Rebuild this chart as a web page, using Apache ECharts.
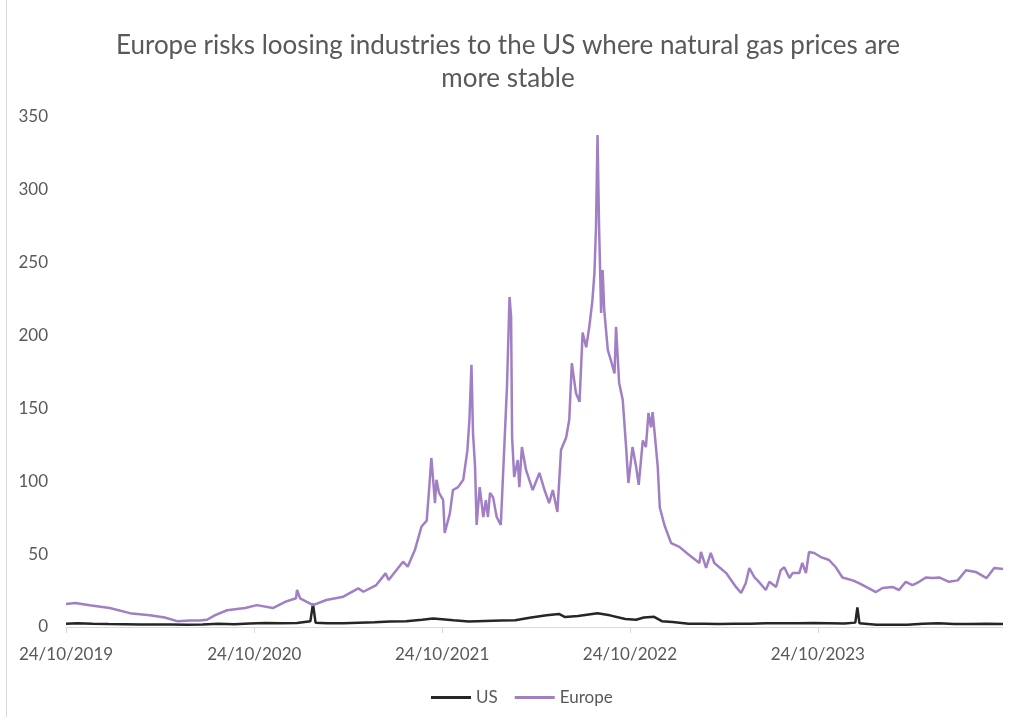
<!DOCTYPE html>
<html>
<head>
<meta charset="utf-8">
<title>Europe vs US gas prices</title>
<script src="https://cdn.jsdelivr.net/npm/echarts@6.0.0/dist/echarts.min.js"></script>
<style>
  html, body { margin: 0; padding: 0; background: #fff; }
  #main { width: 1016px; height: 717px; }
</style>
</head>
<body>
<div id="main"></div>
<script>
  // tick labels on the date axis
  var tickDates = ['2019-10-24', '2020-10-24', '2021-10-24', '2022-10-24', '2023-10-24'];

  // US natural gas price
  var usDates = [
    '2019-10-24', '2019-11-15', '2019-12-15', '2020-01-15', '2020-02-15', '2020-03-15', '2020-04-15',
    '2020-05-15', '2020-06-15', '2020-07-15', '2020-08-15', '2020-09-15', '2020-10-15', '2020-11-15',
    '2020-12-15', '2021-01-15', '2021-02-10', '2021-02-15', '2021-02-20', '2021-03-15', '2021-04-15',
    '2021-05-15', '2021-06-15', '2021-07-15', '2021-08-15', '2021-09-15', '2021-10-06', '2021-10-24',
    '2021-11-15', '2021-12-15', '2022-01-15', '2022-02-15', '2022-03-15', '2022-04-15', '2022-05-15',
    '2022-06-08', '2022-06-20', '2022-07-15', '2022-08-22', '2022-09-15', '2022-10-15', '2022-11-05',
    '2022-11-20', '2022-12-10', '2022-12-25', '2023-01-15', '2023-02-15', '2023-03-15', '2023-04-15',
    '2023-05-15', '2023-06-15', '2023-07-15', '2023-08-15', '2023-09-15', '2023-10-15', '2023-11-15',
    '2023-12-15', '2024-01-05', '2024-01-09', '2024-01-13', '2024-02-15', '2024-03-15', '2024-04-15',
    '2024-05-15', '2024-06-15', '2024-07-15', '2024-08-15', '2024-09-15', '2024-10-18'
  ];
  var usValues = [
    2.3, 2.6, 2.2, 2.0, 1.9, 1.7, 1.7,
    1.7, 1.6, 1.7, 2.2, 1.9, 2.4, 2.8,
    2.6, 2.7, 4.0, 16.0, 3.0, 2.5, 2.6,
    2.9, 3.2, 3.8, 4.0, 5.0, 5.8, 5.3,
    4.6, 3.8, 4.2, 4.5, 4.7, 6.5, 8.0,
    9.0, 6.8, 7.5, 9.5, 8.0, 5.5, 5.0,
    6.5, 7.0, 4.0, 3.4, 2.3, 2.2, 2.1,
    2.2, 2.3, 2.5, 2.6, 2.5, 2.8, 2.6,
    2.4, 3.0, 13.5, 2.6, 1.6, 1.5, 1.6,
    2.2, 2.5, 2.0, 2.0, 2.2, 2.0
  ];

  // European (TTF) natural gas price
  var euDates = [
    '2019-10-24', '2019-11-11', '2019-12-09', '2020-01-17', '2020-02-25', '2020-04-04', '2020-05-03',
    '2020-05-27', '2020-06-21', '2020-07-10', '2020-07-24', '2020-08-08', '2020-09-01', '2020-10-06',
    '2020-10-29', '2020-11-29', '2020-12-24', '2021-01-13', '2021-01-15', '2021-01-21', '2021-02-15',
    '2021-03-13', '2021-04-15', '2021-05-14', '2021-05-24', '2021-06-18', '2021-07-06', '2021-07-12',
    '2021-08-09', '2021-08-18', '2021-09-01', '2021-09-14', '2021-09-24', '2021-09-29', '2021-10-03',
    '2021-10-07', '2021-10-10', '2021-10-13', '2021-10-18', '2021-10-26', '2021-10-29', '2021-11-08',
    '2021-11-14', '2021-11-24', '2021-12-04', '2021-12-12', '2021-12-16', '2021-12-20', '2021-12-23',
    '2021-12-27', '2021-12-30', '2022-01-05', '2022-01-12', '2022-01-17', '2022-01-21', '2022-01-25',
    '2022-01-31', '2022-02-07', '2022-02-15', '2022-02-23', '2022-02-27', '2022-03-04', '2022-03-07',
    '2022-03-09', '2022-03-13', '2022-03-20', '2022-03-23', '2022-03-28', '2022-04-05', '2022-04-18',
    '2022-05-01', '2022-05-11', '2022-05-20', '2022-05-27', '2022-06-05', '2022-06-12', '2022-06-22',
    '2022-06-28', '2022-07-03', '2022-07-11', '2022-07-18', '2022-07-24', '2022-07-31', '2022-08-06',
    '2022-08-12', '2022-08-16', '2022-08-19', '2022-08-22', '2022-08-25', '2022-08-29', '2022-09-01',
    '2022-09-04', '2022-09-11', '2022-09-17', '2022-09-24', '2022-09-27', '2022-10-03', '2022-10-10',
    '2022-10-16', '2022-10-21', '2022-10-29', '2022-11-05', '2022-11-10', '2022-11-18', '2022-11-24',
    '2022-11-29', '2022-12-04', '2022-12-07', '2022-12-11', '2022-12-17', '2022-12-21', '2022-12-30',
    '2023-01-12', '2023-01-28', '2023-02-16', '2023-03-08', '2023-03-11', '2023-03-21', '2023-03-30',
    '2023-04-06', '2023-04-29', '2023-05-18', '2023-05-28', '2023-06-06', '2023-06-13', '2023-06-23',
    '2023-06-29', '2023-07-15', '2023-07-22', '2023-08-04', '2023-08-13', '2023-08-20', '2023-08-30',
    '2023-09-05', '2023-09-18', '2023-09-24', '2023-10-01', '2023-10-07', '2023-10-17', '2023-10-30',
    '2023-11-15', '2023-11-28', '2023-12-11', '2023-12-31', '2024-01-13', '2024-01-26', '2024-02-14',
    '2024-02-27', '2024-03-17', '2024-03-30', '2024-04-12', '2024-04-25', '2024-05-08', '2024-05-21',
    '2024-06-03', '2024-06-16', '2024-07-05', '2024-07-22', '2024-08-07', '2024-08-26', '2024-09-16',
    '2024-10-01', '2024-10-18'
  ];
  var euValues = [
    15.8, 16.5, 15.0, 13.0, 9.5, 8.0, 6.5,
    4.0, 4.5, 4.5, 5.0, 8.0, 11.5, 13.0,
    15.0, 13.0, 17.4, 19.7, 25.4, 19.7, 15.0,
    18.5, 20.8, 26.5, 24.2, 28.8, 36.8, 32.2,
    44.8, 41.4, 52.8, 69.0, 73.0, 96.0, 116.0,
    99.0, 85.0, 101.0, 92.0, 87.0, 64.5, 78.0,
    94.0, 96.0, 101.0, 121.0, 142.0, 180.0, 133.0,
    110.0, 70.0, 96.0, 75.5, 87.0, 75.5, 92.0,
    89.0, 75.5, 70.0, 133.0, 165.0, 226.5, 213.0,
    130.0, 103.0, 114.6, 96.0, 123.5, 107.8, 94.0,
    105.7, 94.0, 85.0, 94.0, 79.0, 121.5, 130.0,
    142.0, 181.0, 160.6, 154.5, 202.0, 192.0, 206.0,
    224.0, 243.0, 274.5, 337.7, 274.5, 215.5, 245.0,
    217.6, 190.0, 183.0, 174.0, 206.0, 167.5, 155.8,
    126.0, 98.8, 123.5, 110.0, 97.5, 128.0, 123.5,
    146.9, 137.0, 147.5, 133.0, 110.0, 82.0, 70.0,
    57.6, 55.0, 49.4, 43.9, 51.5, 40.5, 50.8,
    43.9, 37.0, 27.5, 23.3, 30.0, 40.5, 34.0,
    32.0, 25.4, 31.0, 27.5, 39.0, 41.0, 33.6,
    37.0, 37.0, 44.0, 37.0, 51.5, 50.8, 48.0,
    46.0, 41.0, 34.0, 32.0, 30.0, 27.5, 24.0,
    26.8, 27.5, 25.4, 31.0, 28.8, 31.0, 34.0,
    33.6, 34.0, 31.0, 32.0, 39.0, 37.8, 33.6,
    40.5, 39.8
  ];

  function toTime(s) {
    var p = s.split('-');
    return new Date(+p[0], +p[1] - 1, +p[2]).getTime();
  }

  function pairs(dates, values) {
    return dates.map(function (d, i) { return [toTime(d), values[i]]; });
  }

  function pad(n) { return n < 10 ? '0' + n : '' + n; }

  var tickTimes = tickDates.map(toTime);

  var chart = echarts.init(document.getElementById('main'));
  chart.setOption({
    animation: false,
    backgroundColor: '#fff',
    textStyle: { fontFamily: 'Lato, "Liberation Sans", sans-serif' },
    title: {
      text: 'Europe risks loosing industries to the US where natural gas prices are\nmore stable',
      left: 'center',
      top: 24,
      textStyle: {
        color: '#595959',
        fontSize: 26,
        fontWeight: 'normal',
        lineHeight: 33
      }
    },
    legend: {
      top: 684,
      left: 426,
      itemWidth: 40,
      itemHeight: 3,
      itemGap: 17,
      icon: 'rect',
      textStyle: { color: '#595959', fontSize: 17 },
      data: ['US', 'Europe']
    },
    grid: {
      left: 66,
      right: 13,
      top: 117,
      bottom: 90
    },
    // dates are kept as timestamps on a plain value axis so that ticks can sit on 24/10
    xAxis: {
      type: 'value',
      min: toTime(euDates[0]),
      max: toTime(euDates[euDates.length - 1]),
      splitLine: { show: false },
      axisLine: { lineStyle: { color: '#d9d9d9', width: 1 } },
      axisTick: {
        show: true,
        length: 6,
        customValues: tickTimes,
        lineStyle: { color: '#d9d9d9' }
      },
      axisLabel: {
        customValues: tickTimes,
        color: '#595959',
        fontSize: 17,
        margin: 19,
        formatter: function (v) {
          var d = new Date(v);
          return pad(d.getDate()) + '/' + pad(d.getMonth() + 1) + '/' + d.getFullYear();
        }
      }
    },
    yAxis: {
      type: 'value',
      min: 0,
      max: 350,
      interval: 50,
      splitLine: { show: false },
      axisLine: { show: false },
      axisTick: { show: false },
      axisLabel: { color: '#595959', fontSize: 17, margin: 18 }
    },
    series: [
      {
        name: 'US',
        type: 'line',
        showSymbol: false,
        data: pairs(usDates, usValues),
        itemStyle: { color: '#262626' },
        lineStyle: { color: '#262626', width: 2.5 }
      },
      {
        name: 'Europe',
        type: 'line',
        showSymbol: false,
        data: pairs(euDates, euValues),
        itemStyle: { color: '#a17fc4' },
        lineStyle: { color: '#a17fc4', width: 2.5 }
      }
    ],
    graphic: [
      {
        type: 'line',
        shape: { x1: 6.5, y1: 0, x2: 6.5, y2: 717 },
        style: { stroke: '#d9d9d9', lineWidth: 1 }
      }
    ]
  });
</script>
</body>
</html>
